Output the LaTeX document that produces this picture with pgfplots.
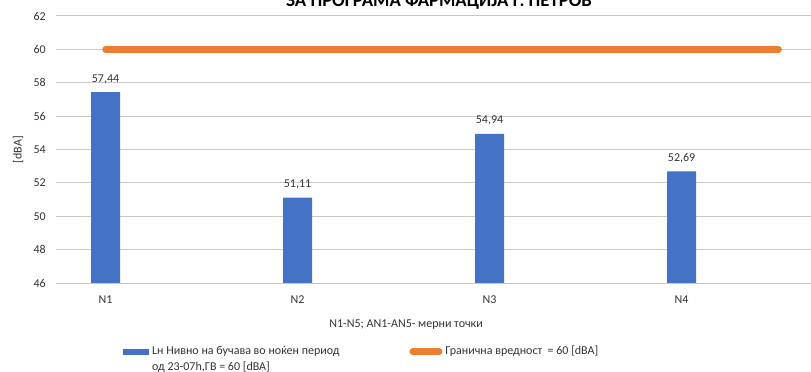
\documentclass[border=0pt]{standalone}
\usepackage{fontspec}
\setmainfont{Carlito}
\usepackage{pgfplots}
\pgfplotsset{compat=1.18}
\definecolor{barblue}{HTML}{4472C4}
\definecolor{limorange}{HTML}{ED7D31}
\definecolor{gridgray}{HTML}{C8C8C8}
\definecolor{txt}{HTML}{333333}
\newcommand{\lbl}{\fontsize{12bp}{15.5bp}\selectfont}
\begin{document}
\begin{tikzpicture}
\begin{axis}[
  at={(56bp,89bp)}, anchor=south west,
  scale only axis, width=755bp, height=267bp,
  xmin=-0.2578, xmax=3.674, ymin=46, ymax=62,
  ytick={46,48,...,62},
  xtick={0,1,2,3}, xticklabels={N1,N2,N3,N4},
  major tick length=0pt,
  axis line style={draw=none},
  ymajorgrids, grid style={gridgray, line width=1bp},
  /pgf/number format/assume math mode=true,
  tick label style={font=\lbl, text=txt},
  yticklabel style={inner sep=0pt, anchor=east, xshift=-10bp},
  xticklabel style={inner sep=0pt, anchor=base, yshift=-20bp},
  xlabel={N1-N5; AN1-AN5- мерни точки},
  every axis x label/.style={at={([yshift=-44bp]rel axis cs:0.4636,0)}, anchor=base, font=\lbl, text=txt, inner sep=0pt},
  ylabel={[dBA]},
  every axis y label/.style={at={([xshift=-38bp]rel axis cs:0,0.5)}, rotate=90, anchor=center, font=\lbl, text=txt, inner sep=0pt},
  legend columns=2,
  legend style={at={(rel axis cs:0.0887,-0.236)}, anchor=north west, draw=none, fill=none, inner sep=0pt,
    font=\lbl, text=txt,
    nodes={inner sep=0pt},
    cells={anchor=west, align=left},
    /tikz/every odd column/.append style={column sep=3bp},
    /tikz/every even column/.append style={column sep=70bp}},
]
\addplot[ybar, bar width=29bp, fill=barblue, draw=none,
  nodes near coords={\pgfmathprintnumber[fixed, fixed zerofill, precision=2, use comma]{\pgfplotspointmeta}},
  every node near coord/.append style={anchor=base, yshift=10bp, inner sep=0pt, font=\lbl, text=txt},
  legend image code/.code={\fill[barblue] (0bp,4.5bp) rectangle (26bp,10bp);}]
  coordinates {(0,57.44) (1,51.11) (2,54.94) (3,52.69)};
\addlegendentry{Lн Нивно на бучава во ноќен период\\од 23-07h,ГВ = 60 [dBA]}
\addplot[limorange, line width=6.5bp, line cap=round,
  legend image code/.code={\draw[limorange, line width=6.5bp, line cap=round] (0bp,7.5bp) -- (26.5bp,7.5bp);}]
  coordinates {(0,60) (3.505,60)};
\addlegendentry{Гранична вредност \ = 60 [dBA]\\\mbox{}}
\end{axis}
\node[anchor=base, font=\bfseries\fontsize{18.7bp}{20bp}\selectfont] at (439bp,365bp) {ЗА ПРОГРАМА ФАРМАЦИЈА Г. ПЕТРОВ};
\pgfresetboundingbox
\path (0,0) rectangle (811bp,372bp);
\end{tikzpicture}
\end{document}
